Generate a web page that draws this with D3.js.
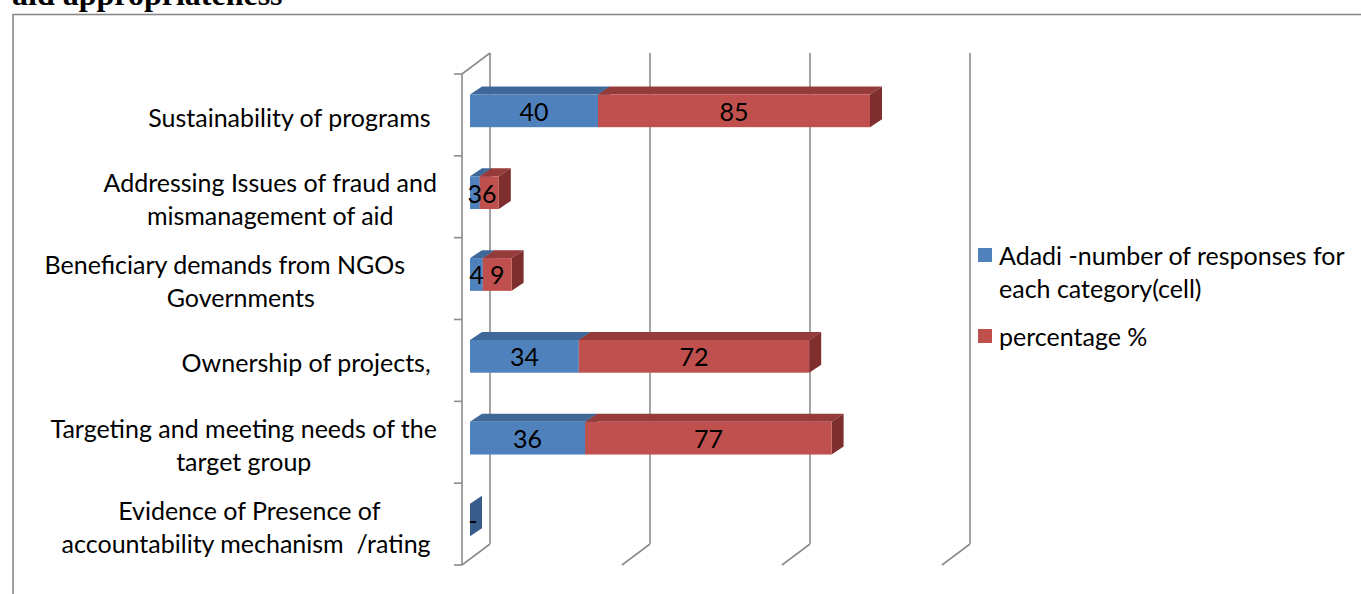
<!DOCTYPE html>
<html>
<head>
<meta charset="utf-8">
<script src="https://cdn.jsdelivr.net/npm/d3@7"></script>
<style>
  html, body { margin: 0; padding: 0; background: #fff; overflow: hidden; }
  svg { display: block; }
  text { white-space: pre; }
</style>
</head>
<body>
<svg id="chart" width="1361" height="594"></svg>
<script>
// ---------------- data ----------------
const categories = [
  "Sustainability of programs ",
  "Addressing Issues of fraud and\nmismanagement of aid",
  "Beneficiary demands from NGOs     \nGovernments",
  "Ownership of projects, ",
  "Targeting and meeting needs of the\ntarget group",
  "Evidence of Presence of\naccountability mechanism  /rating "
];
const adadiValues = [40, 3, 4, 34, 36, 0];
const percentageValues = [85, 6, 9, 72, 77, null];
const seriesNames = ["Adadi -number of responses for\neach category(cell)", "percentage %"];
const seriesColors = ["#4F81BD", "#C0504D"];
const topColors = ["#3F6898", "#953B39"];
const sideColors = ["#385D8A", "#7E2F2D"];
const xTicks = [0, 50, 100, 150];
const titleText = "aid appropriateness";

// ---------------- layout ----------------
const svg = d3.select("#chart");
const FONT = "Lato, 'Open Sans', sans-serif";
const FS = 25;

const depth = { dx: 28, dy: -21 };          // full floor depth (front -> back wall)
const barDepth = { dx: 12, dy: -8 };        // bar depth
const barFrontZ = 8;                        // x offset of bar front face from axis front plane

const x = d3.scaleLinear().domain([0, 150]).range([462, 942]);   // front plane
const slot = d3.scaleBand().domain(categories).range([74, 565]).padding(0);

// title (cut at top)
svg.append("text")
  .attr("x", 12).attr("y", 5)
  .attr("font-family", "'Liberation Serif', 'Times New Roman', serif")
  .attr("font-weight", "bold").attr("font-size", 32)
  .attr("fill", "#000")
  .text(titleText);

// frame
svg.append("rect")
  .attr("x", 13).attr("y", 14.5).attr("width", 1400).attr("height", 700)
  .attr("fill", "none").attr("stroke", "#8a8a8a").attr("stroke-width", 1.6);

const gridColor = "#8c8c8c";
const g = svg.append("g");
const yTop = slot.range()[0], yBot = slot.range()[1];

// back-wall gridlines + floor diagonals
xTicks.forEach(t => {
  const xb = x(t) + depth.dx;
  g.append("line")
    .attr("x1", xb).attr("x2", xb)
    .attr("y1", yTop + depth.dy).attr("y2", yBot + depth.dy)
    .attr("stroke", gridColor).attr("stroke-width", 1.6);
  g.append("line")
    .attr("x1", x(t)).attr("y1", yBot)
    .attr("x2", xb).attr("y2", yBot + depth.dy)
    .attr("stroke", gridColor).attr("stroke-width", 1.6);
});
// left side wall: front vertical axis + top diagonal
g.append("line")
  .attr("x1", x(0)).attr("x2", x(0)).attr("y1", yTop).attr("y2", yBot)
  .attr("stroke", gridColor).attr("stroke-width", 1.6);
g.append("line")
  .attr("x1", x(0)).attr("y1", yTop)
  .attr("x2", x(0) + depth.dx).attr("y2", yTop + depth.dy)
  .attr("stroke", gridColor).attr("stroke-width", 1.6);
// category tick marks
const bounds = categories.map(c => slot(c)).concat([yBot]);
bounds.forEach(yb => {
  g.append("line")
    .attr("x1", x(0) - 8).attr("x2", x(0))
    .attr("y1", yb).attr("y2", yb)
    .attr("stroke", gridColor).attr("stroke-width", 1.6);
});

// category labels
const labG = svg.append("g");
const blockRight = 437;
const lineH = 33;
categories.forEach(c => {
  const lines = c.split("\n");
  const cy = slot(c) + slot.bandwidth() / 2 + 2;
  const nodes = lines.map((ln, j) => labG.append("text")
    .attr("xml:space", "preserve")
    .attr("font-family", FONT).attr("font-size", FS).attr("fill", "#000")
    .attr("dominant-baseline", "central")
    .attr("y", cy + (j - (lines.length - 1) / 2) * lineH)
    .text(ln));
  const widths = nodes.map(n => n.node().getComputedTextLength());
  const bw = d3.max(widths);
  nodes.forEach(n => n.attr("text-anchor", "middle").attr("x", blockRight - bw / 2));
});

// bars
const barG = svg.append("g");
function poly(pts) { return pts.map(p => p.join(",")).join(" "); }
categories.forEach((c, i) => {
  const yt = slot(c) + slot.bandwidth() * 0.25;
  const yb = yt + slot.bandwidth() * 0.4;
  let start = 0;
  [adadiValues[i], percentageValues[i]].forEach((v, s) => {
    if (v === null || v === undefined) return;
    const x0 = x(start) + barFrontZ, x1 = x(start + v) + barFrontZ;
    const { dx, dy } = barDepth;
    if (v > 0) {
      barG.append("polygon")
        .attr("points", poly([[x0, yt], [x1, yt], [x1 + dx, yt + dy], [x0 + dx, yt + dy]]))
        .attr("fill", topColors[s]);
    }
    barG.append("polygon")
      .attr("points", poly([[x1, yt], [x1 + dx, yt + dy], [x1 + dx, yb + dy], [x1, yb]]))
      .attr("fill", sideColors[s]);
    if (v > 0) {
      barG.append("rect")
        .attr("x", x0).attr("y", yt).attr("width", x1 - x0).attr("height", yb - yt)
        .attr("fill", seriesColors[s]);
    }
    start += v;
  });
  // data labels
  start = 0;
  [adadiValues[i], percentageValues[i]].forEach((v, s) => {
    if (v === null || v === undefined) return;
    const x0 = x(start) + barFrontZ, x1 = x(start + v) + barFrontZ;
    barG.append("text")
      .attr("x", v === 0 ? x0 + 3 : (x0 + x1) / 2)
      .attr("y", (yt + yb) / 2)
      .attr("text-anchor", "middle").attr("dominant-baseline", "central")
      .attr("font-family", FONT).attr("font-size", FS).attr("fill", "#000")
      .text(v === 0 ? "-" : d3.format("d")(v));
    start += v;
  });
});

// legend
const leg = svg.append("g");
const legY = [248, 329];
seriesNames.forEach((name, s) => {
  leg.append("rect")
    .attr("x", 978).attr("y", legY[s]).attr("width", 14).attr("height", 14)
    .attr("fill", seriesColors[s]);
  name.split("\n").forEach((ln, j) => {
    leg.append("text")
      .attr("x", 999).attr("y", legY[s] + 7 + j * lineH)
      .attr("dominant-baseline", "central")
      .attr("font-family", FONT).attr("font-size", FS).attr("fill", "#000")
      .text(ln);
  });
});
</script>
</body>
</html>
